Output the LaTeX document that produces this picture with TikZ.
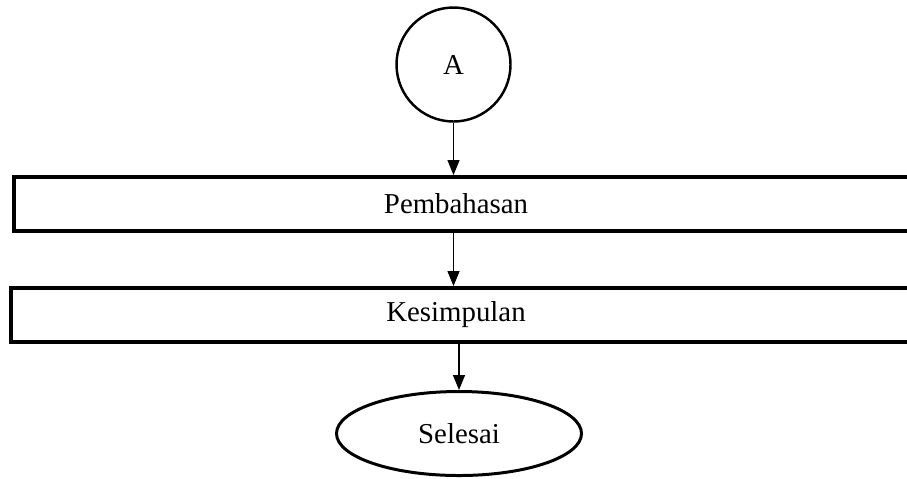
\documentclass[tikz,border=0pt]{standalone}
\usepackage{fontspec}
\setmainfont{Liberation Serif}
\usetikzlibrary{arrows.meta,positioning,shapes.geometric}
\tikzset{
  flow/.style={-{Triangle[length=0.15cm,width=0.12cm]},line width=0.35pt},
  stepbox/.style={rectangle,draw=black,line width=1.1pt,minimum width=9.1cm,minimum height=0.54cm,inner sep=0pt},
}
\begin{document}
\begin{tikzpicture}[font=\fontsize{8.2}{10}\selectfont]
\useasboundingbox (0,0) rectangle (9.07,4.78);
% \draw[help lines] (0,0) grid (9,4);
\node (conn) [circle,draw=black,line width=0.7pt,minimum size=1.14cm,inner sep=0pt] at (4.535,4.135) {A};
\node (pemb) [stepbox] at (4.69,2.74) {\hspace*{-0.26cm}Pembahasan};
\node (kes) [stepbox] at (4.66,1.63) {\hspace*{-0.2cm}Kesimpulan};
\node (sel) [ellipse,draw=black,line width=0.85pt,minimum width=2.45cm,minimum height=0.84cm,inner sep=0pt] at (4.59,0.445) {Selesai};
%
\path[flow] (conn.south) edge (conn.south |- pemb.north);
\path[flow] (conn.south |- pemb.south) edge (conn.south |- kes.north);
\path[flow] (sel.north |- kes.south) edge (sel.north);
\end{tikzpicture}
\end{document}
